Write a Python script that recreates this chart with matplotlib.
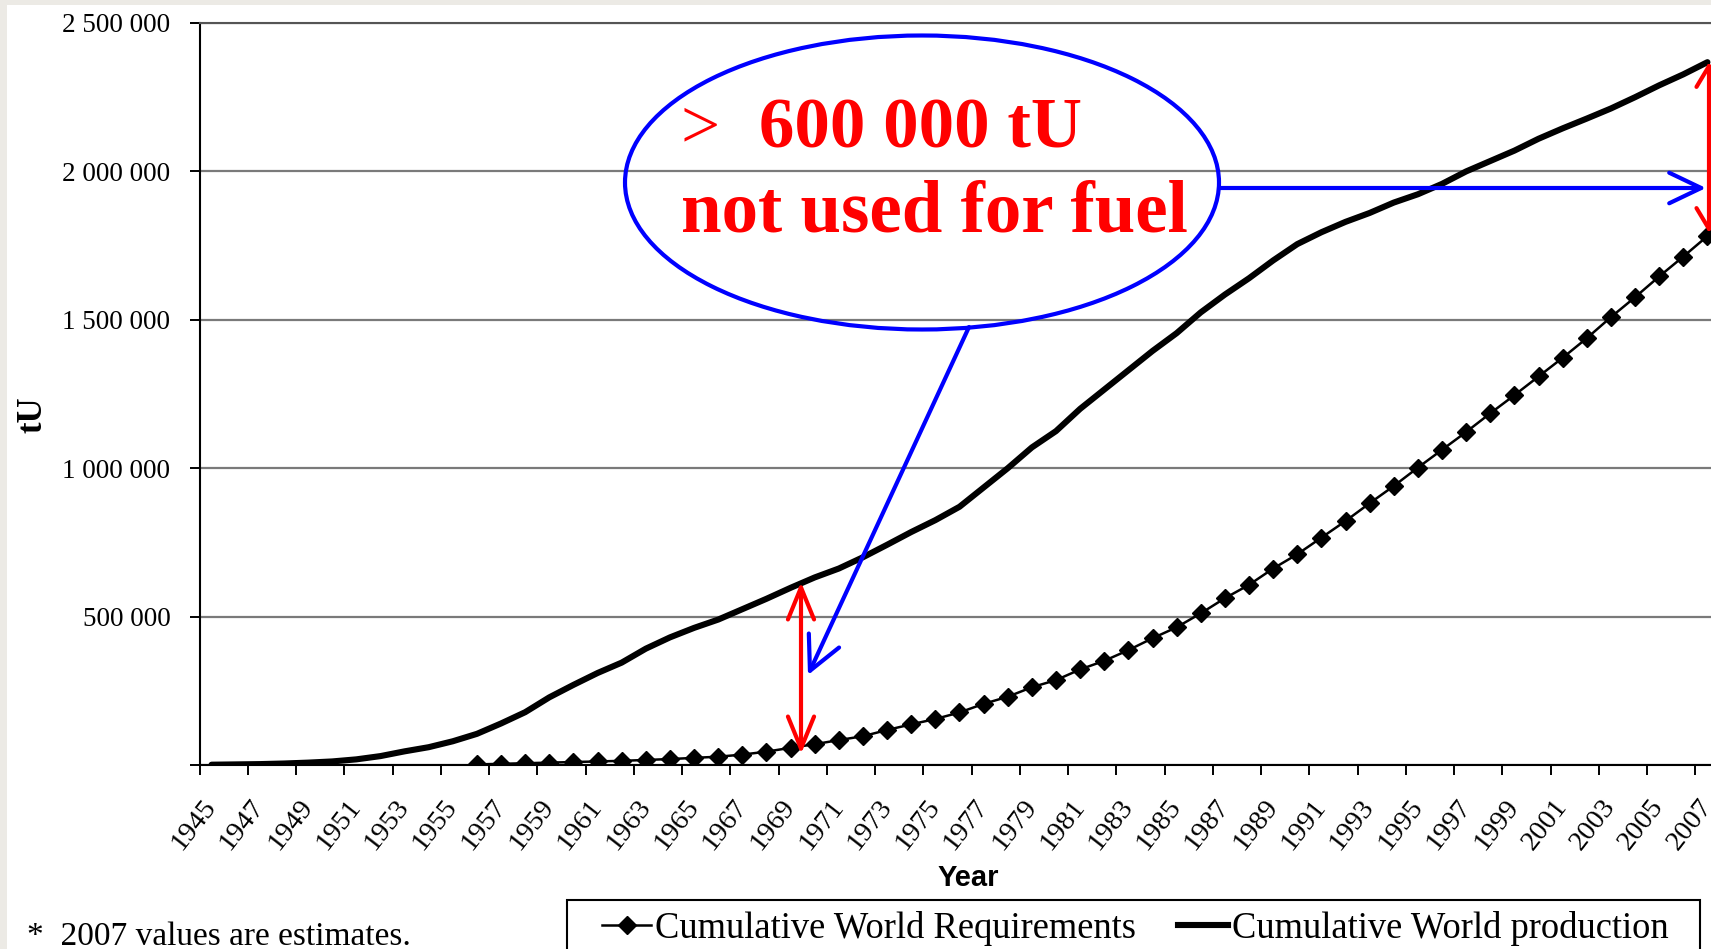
import matplotlib
matplotlib.use("Agg")
import matplotlib.pyplot as plt
from matplotlib.patches import Ellipse, FancyArrowPatch, Rectangle
from matplotlib.lines import Line2D
import numpy as np

# ---------------- data ----------------
years = list(range(1945, 2008))
production = [1000, 2000, 3000, 5000, 8000, 12000, 19000, 30000, 46000, 60000,
              80000, 105000, 140000, 178000, 228000, 270000, 310000, 345000, 392000, 430000,
              462000, 490000, 525000, 560000, 597000, 632000, 662000, 700000, 742000, 785000,
              825000, 870000, 935000, 1000000, 1070000, 1125000, 1200000, 1265000, 1330000, 1395000,
              1455000, 1525000, 1585000, 1640000, 1700000, 1755000, 1795000, 1830000, 1860000, 1895000,
              1923000, 1958000, 2000000, 2035000, 2070000, 2110000, 2145000, 2178000, 2212000, 2250000,
              2290000, 2327000, 2368000]
req_years = list(range(1956, 2008))
requirements = [2000, 4000, 6000, 8000, 10000, 12000, 14000, 17000, 20000, 24000,
                28000, 35000, 45000, 58000, 70000, 84000, 97000, 118000, 137000, 155000,
                177000, 206000, 230000, 262000, 286000, 322000, 351000, 387000, 427000, 464000,
                511000, 562000, 607000, 662000, 710000, 766000, 822000, 882000, 940000, 1002000,
                1062000, 1122000, 1185000, 1246000, 1309000, 1372000, 1438000, 1509000, 1576000, 1646000,
                1713000, 1782000]
yticks = [0, 500000, 1000000, 1500000, 2000000, 2500000]
ytick_labels = ["", "500 000", "1 000 000", "1 500 000", "2 000 000", "2 500 000"]
xtick_labels = [str(y) for y in years[::2]]
series_names = ["Cumulative World Requirements", "Cumulative World production"]

# ---------------- figure ----------------
W, H = 1711, 949
plt.rcParams["font.family"] = ["Liberation Serif", "DejaVu Serif"]
fig = plt.figure(figsize=(W / 100, H / 100), dpi=100, facecolor="white")


def px(x, y):
    return (x / W, 1 - y / H)


# light window border strips
fig.patches.append(Rectangle((0, 0), 7 / W, 1, transform=fig.transFigure,
                             facecolor="#ECEAE5", edgecolor="none", zorder=-5))
fig.patches.append(Rectangle((0, 1 - 5 / H), 1, 5 / H, transform=fig.transFigure,
                             facecolor="#ECEAE5", edgecolor="none", zorder=-5))

ax = fig.add_axes([199.5 / W, 1 - 765 / H, 1520 / W, 742 / H])
x = np.arange(len(years))
req_x = [years.index(y) for y in req_years]

ax.plot(x, production, color="black", lw=4.4, solid_capstyle="round",
        solid_joinstyle="round", zorder=3)
ax.plot(req_x, requirements, color="black", lw=1.8, marker="D", ms=9.5, zorder=4)

ax.set_xlim(-0.5, len(years) - 0.5)
ax.set_ylim(0, 2500000)

ax.set_yticks(yticks)
ax.set_yticklabels(ytick_labels)
ax.yaxis.grid(True, color="#7a7a7a", lw=1.6)
ax.set_axisbelow(True)
ax.tick_params(axis="y", length=7, width=1.4, pad=14, labelsize=19.5, color="black")

ax.set_xticks(np.arange(-0.5, len(years) - 0.5, 2))
ax.tick_params(axis="x", which="major", length=7, width=1.4, labelbottom=False)
ax.set_xticks(x[::2], minor=True)
ax.set_xticklabels(xtick_labels, minor=True, rotation=52, ha="right", va="center",
                   rotation_mode="anchor", fontsize=20.5)
ax.tick_params(axis="x", which="minor", length=0, pad=27)

for s in ["left", "bottom"]:
    ax.spines[s].set_linewidth(1.5)
    ax.spines[s].set_color("black")
ax.spines["top"].set_color("#555555")
ax.spines["top"].set_linewidth(1.5)
ax.spines["right"].set_visible(False)

# axis titles
fig.text(*px(33, 415), "tU", rotation=90, ha="center", va="center",
         fontsize=25, fontweight="bold")
fig.text(*px(968, 878), "Year", ha="center", va="center", fontsize=21, fontweight="bold",
         family=["Liberation Sans Narrow", "Liberation Sans", "DejaVu Sans"])

# footnote
fig.text(*px(27, 945), "*  2007 values are estimates.", ha="left", va="baseline", fontsize=24)

# legend (drawn by hand to match the boxed layout)
fig.patches.append(Rectangle(px(567, 952), (1700 - 567) / W, 52 / H, transform=fig.transFigure,
                             facecolor="white", edgecolor="black", lw=1.5, zorder=2))
ly = 925
fig.add_artist(Line2D([602 / W, 651 / W], [1 - ly / H] * 2, color="black", lw=1.8,
                      transform=fig.transFigure, zorder=3))
fig.add_artist(Line2D([626.5 / W], [1 - ly / H], color="black", marker="D", ms=9.5,
                      transform=fig.transFigure, zorder=3))
fig.text(*px(655, 938), series_names[0], ha="left", va="baseline", fontsize=26.3, zorder=3)
fig.add_artist(Line2D([1178 / W, 1228 / W], [1 - ly / H] * 2, color="black", lw=4.4,
                      transform=fig.transFigure, zorder=3))
fig.text(*px(1232, 938), series_names[1], ha="left", va="baseline", fontsize=26.3, zorder=3)

# ---------------- annotations ----------------
blue = "#0000FF"
red = "#FF0000"
fig.patches.append(Ellipse(px(922, 182.5), 594 / W, 294 / H, transform=fig.transFigure,
                           facecolor="none", edgecolor=blue, lw=3, zorder=5))
fig.add_artist(FancyArrowPatch(px(969, 327), px(808, 675), transform=fig.transFigure,
                               arrowstyle="->,head_length=1.2,head_width=0.6",
                               mutation_scale=20, color=blue, lw=3, zorder=5,
                               shrinkA=0, shrinkB=0))
fig.add_artist(FancyArrowPatch(px(1219, 188), px(1706, 188), transform=fig.transFigure,
                               arrowstyle="->,head_length=1.15,head_width=0.55",
                               mutation_scale=20, color=blue, lw=3, zorder=5,
                               shrinkA=0, shrinkB=0))
fig.add_artist(FancyArrowPatch(px(801, 582), px(801, 754), transform=fig.transFigure,
                               arrowstyle="<->,head_length=1.15,head_width=0.47",
                               mutation_scale=20, color=red, lw=3, zorder=5,
                               shrinkA=0, shrinkB=0))
fig.add_artist(FancyArrowPatch(px(1709, 62), px(1709, 233), transform=fig.transFigure,
                               arrowstyle="<->,head_length=0.75,head_width=0.45",
                               mutation_scale=20, color=red, lw=3, zorder=5,
                               shrinkA=0, shrinkB=0))

fig.text(*px(681, 147), ">", ha="left", va="baseline", fontsize=50, color=red, zorder=6)
fig.text(*px(759, 147), "600 000 tU", ha="left", va="baseline", fontsize=51,
         fontweight="bold", color=red, zorder=6)
fig.text(*px(681, 231), "not used for fuel", ha="left", va="baseline", fontsize=52.5,
         fontweight="bold", color=red, zorder=6)

fig.savefig("out.png", dpi=100, facecolor="white")
